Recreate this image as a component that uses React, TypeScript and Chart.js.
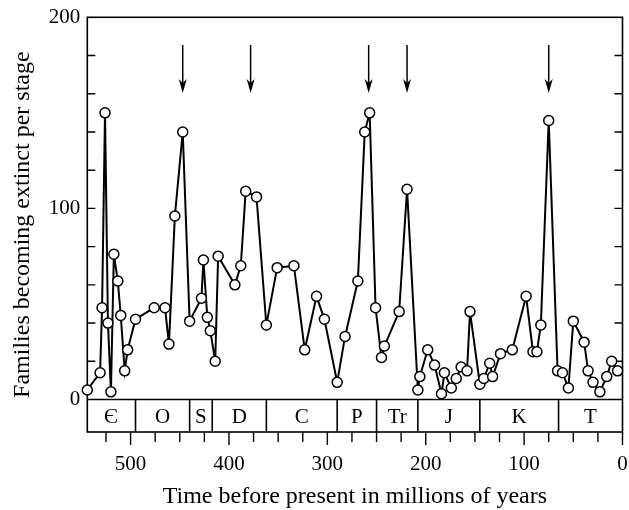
import React, { useEffect, useRef } from 'react';
import { Chart, registerables } from 'chart.js';
Chart.register(...registerables);

// Age (millions of years before present) of each stage
const ages = [
  544, 531, 529, 526, 523, 520, 517, 513, 510, 506, 503, 495, 476, 465, 461, 455, 447, 440,
  428, 426, 422, 419, 414, 411, 394, 388, 383, 372, 362, 351, 334, 323, 311, 303, 290, 282,
  269, 262, 257, 251, 245, 242, 227, 219, 208, 206, 198, 191, 184, 181, 174, 169, 164, 158,
  155, 145, 141, 135, 132, 124, 112, 98, 91, 87, 83, 75, 66, 61, 55, 50, 39, 35, 30, 23, 16,
  11, 5,
];
// Families becoming extinct per stage
const extinctions = [
  5, 14, 48, 150, 40, 4, 76, 62, 44, 15, 26, 42, 48, 48, 29, 96, 140, 41,
  53, 73, 43, 36, 20, 75, 60, 70, 109, 106, 39, 69, 70, 26, 54, 42, 9, 33,
  62, 140, 150, 48, 22, 28, 46, 110, 5, 12, 26, 18, 3, 14, 6, 11, 17, 15,
  46, 8, 11, 19, 12, 24, 26, 54, 25, 25, 39, 146, 15, 14, 6, 41, 30, 15, 9, 4, 12,
  20, 15,
];
const periodNames = ['Є', 'O', 'S', 'D', 'C', 'P', 'Tr', 'J', 'K', 'T'];
const periodBoundaries = [545, 495, 440, 417, 362, 290, 250, 208, 145, 65, 0];
const extinctionArrows = [447, 378, 258, 219, 75];
const xTickValues = [0, 25, 50, 75, 100, 125, 150, 175, 200, 225, 250, 275, 300, 325, 350, 375, 400, 425, 450, 475, 500, 525];
const xLabelValues = [0, 100, 200, 300, 400, 500];
const yTickValues = [0, 20, 40, 60, 80, 100, 120, 140, 160, 180, 200];
const yLabelValues = [0, 100, 200];

const FONT = "'Liberation Serif', 'Times New Roman', serif";

export default function App() {
  const ref = useRef<HTMLCanvasElement>(null);
  useEffect(() => {
    const canvas = ref.current!;
    const decor = {
      id: 'decor',
      beforeDatasetsDraw(chart: any) {
        const { ctx, chartArea: a, scales } = chart;
        const xs = scales.x, ys = scales.y;
        const y0 = ys.getPixelForValue(0);
        ctx.save();
        ctx.strokeStyle = '#000';
        ctx.lineWidth = 1.6;
        ctx.strokeRect(a.left, a.top, a.right - a.left, a.bottom - a.top);
        ctx.beginPath();
        ctx.moveTo(a.left, y0);
        ctx.lineTo(a.right, y0);
        ctx.stroke();
        // period dividers and names
        ctx.fillStyle = '#000';
        ctx.font = `21px ${FONT}`;
        ctx.textAlign = 'center';
        ctx.textBaseline = 'middle';
        for (let i = 0; i < periodNames.length; i++) {
          const e = periodBoundaries[i + 1];
          const xe = xs.getPixelForValue(e);
          if (e > xs.min) {
            ctx.beginPath();
            ctx.moveTo(xe, y0);
            ctx.lineTo(xe, a.bottom);
            ctx.stroke();
          }
          const xm = xs.getPixelForValue((periodBoundaries[i] + e) / 2);
          ctx.fillText(periodNames[i], xm, (y0 + a.bottom) / 2 + 2);
        }
        // y ticks inside, both sides
        ctx.lineWidth = 1.4;
        for (const v of yTickValues) {
          if (v <= 0 || v >= 200) continue;
          const y = ys.getPixelForValue(v);
          ctx.beginPath();
          ctx.moveTo(a.left, y); ctx.lineTo(a.left + 8, y);
          ctx.moveTo(a.right, y); ctx.lineTo(a.right - 8, y);
          ctx.stroke();
        }
        // x ticks outside below
        for (const v of xTickValues) {
          const x = xs.getPixelForValue(v);
          const len = v % 100 === 0 ? 13 : 10;
          ctx.beginPath();
          ctx.moveTo(x, a.bottom); ctx.lineTo(x, a.bottom + len);
          ctx.stroke();
        }
        ctx.restore();
      },
      afterDatasetsDraw(chart: any) {
        const { ctx, scales } = chart;
        const xs = scales.x, ys = scales.y;
        ctx.save();
        ctx.strokeStyle = '#000';
        ctx.fillStyle = '#000';
        ctx.lineWidth = 1.5;
        const yTop = ys.getPixelForValue(185.5);
        const yTip = ys.getPixelForValue(160.4);
        for (const age of extinctionArrows) {
          const x = xs.getPixelForValue(age);
          ctx.beginPath();
          ctx.moveTo(x, yTop);
          ctx.lineTo(x, yTip - 6);
          ctx.stroke();
          ctx.beginPath();
          ctx.moveTo(x, yTip);
          ctx.lineTo(x - 4, yTip - 14);
          ctx.lineTo(x, yTip - 10);
          ctx.lineTo(x + 4, yTip - 14);
          ctx.closePath();
          ctx.fill();
        }
        ctx.restore();
      },
    };

    const chart = new Chart(canvas, {
      type: 'line',
      data: {
        datasets: [
          {
            data: ages.map((a, i) => ({ x: a, y: extinctions[i] })),
            borderColor: '#000',
            borderWidth: 2,
            pointRadius: 5,
            pointHoverRadius: 5,
            pointBackgroundColor: '#fff',
            pointBorderColor: '#000',
            pointBorderWidth: 1.5,
            tension: 0,
            clip: false as any,
          },
        ],
      },
      options: {
        animation: false,
        responsive: false,
        devicePixelRatio: 1,
        events: [],
        layout: { padding: { left: 0, right: 5.5, top: 17.3, bottom: 0 } },
        plugins: { legend: { display: false }, tooltip: { enabled: false } },
        scales: {
          x: {
            type: 'linear',
            reverse: true,
            min: 0,
            max: 544,
            border: { display: false },
            grid: { display: false, drawTicks: false },
            afterBuildTicks: (s: any) => { s.ticks = xTickValues.map((v) => ({ value: v })); },
            afterFit: (s: any) => {
              s.height = 78;
              s.paddingLeft = 0; s.paddingRight = 0;
            },
            ticks: {
              autoSkip: false,
              maxRotation: 0,
              padding: 20,
              color: '#000',
              font: { family: FONT, size: 21 },
              callback: (v: any) => (xLabelValues.includes(Number(v)) ? String(v) : ''),
            },
            title: {
              display: true,
              text: 'Time before present in millions of years',
              color: '#000',
              font: { family: FONT, size: 24, lineHeight: 1 },
              padding: { top: 0, bottom: 1 },
            },
          },
          y: {
            type: 'linear',
            min: -17,
            max: 200,
            border: { display: false },
            grid: { display: false, drawTicks: false },
            afterBuildTicks: (s: any) => { s.ticks = yTickValues.map((v) => ({ value: v })); },
            afterFit: (s: any) => {
              s.width = 87.3;
              s.paddingTop = 0; s.paddingBottom = 0;
            },
            ticks: {
              autoSkip: false,
              padding: 7,
              color: '#000',
              font: { family: FONT, size: 21 },
              callback: (v: any) => (yLabelValues.includes(Number(v)) ? String(v) : ''),
            },
            title: {
              display: true,
              text: 'Families becoming extinct per stage',
              color: '#000',
              font: { family: FONT, size: 24 },
              padding: { top: 8, bottom: 0 },
            },
          },
        },
      },
      plugins: [decor],
    } as any);
    return () => chart.destroy();
  }, []);

  return (
    <div style={{ position: 'fixed', left: 0, top: 0, width: 629, height: 510, background: '#fff' }}>
      <canvas ref={ref} width={629} height={510} style={{ width: 629, height: 510, display: 'block' }} />
    </div>
  );
}
